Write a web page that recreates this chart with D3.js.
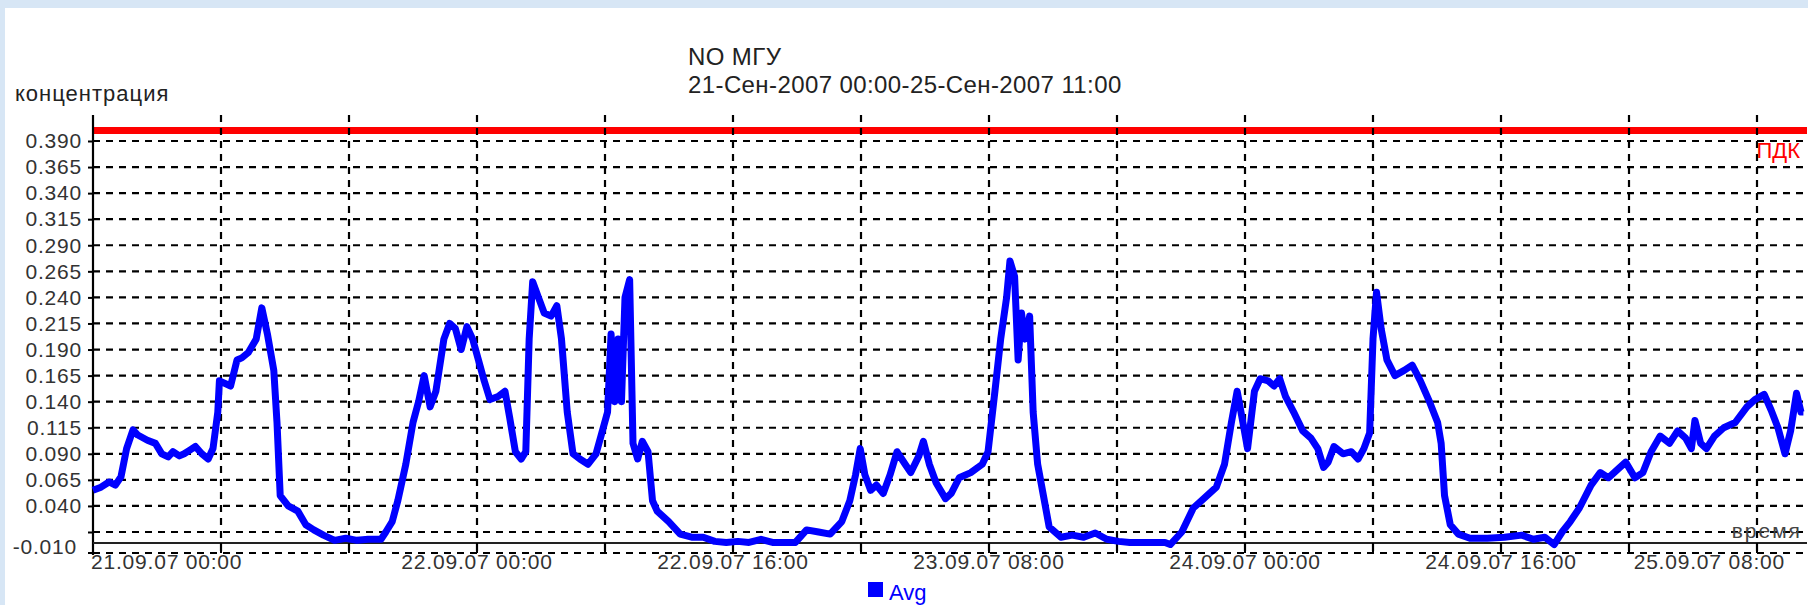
<html>
<head>
<script src="https://d3js.org/d3.v7.min.js"></script>
<style>
    body { margin: 0; background: #fff; }
    text { font-family: "Liberation Sans", Arial, sans-serif; }
</style>
</head>
<body>
<svg id="chart" width="1808" height="605"></svg>
<script>
// hours after 21-09-2007 00:00 and the NO average at that moment
const hours = [
    0, 0.5, 1.0, 1.4, 1.75, 2.1, 2.5, 2.8, 3.4, 3.9,
    4.3, 4.7, 5.0, 5.4, 5.7, 6.1, 6.4, 6.8, 7.2, 7.5,
    7.8, 7.9, 8.6, 9.0, 9.3, 9.7, 10.2, 10.55, 10.9, 11.3,
    11.5, 11.7, 12.2, 12.8, 13.3, 13.8, 14.4, 15.1, 15.8, 16.5,
    17.2, 18.0, 18.3, 18.7, 19.05, 19.55, 20.0, 20.35, 20.7, 21.07,
    21.43, 21.93, 22.29, 22.65, 23.01, 23.37, 23.73, 24.09, 24.45, 24.81,
    25.32, 25.75, 26.04, 26.4, 26.76, 27.05, 27.26, 27.48, 27.84, 28.2,
    28.63, 28.99, 29.28, 29.64, 30.0, 30.43, 30.94, 31.44, 31.8, 32.16,
    32.38, 32.6, 32.82, 33.03, 33.25, 33.54, 33.75, 34.04, 34.33, 34.69,
    34.97, 35.26, 35.98, 36.7, 37.42, 38.14, 38.86, 39.58, 40.3, 41.0,
    41.75, 42.47, 43.2, 43.9, 44.6, 45.35, 46.07, 46.8, 47.3, 47.66,
    47.95, 48.24, 48.6, 48.96, 49.39, 49.82, 50.25, 50.76, 51.11, 51.62,
    51.9, 52.27, 52.7, 53.28, 53.64, 54.14, 54.86, 55.58, 55.94, 56.37,
    56.73, 57.1, 57.31, 57.6, 57.82, 58.03, 58.25, 58.54, 58.76, 59.04,
    59.4, 59.76, 60.49, 61.2, 61.92, 62.64, 63.36, 64.1, 64.8, 65.5,
    66.25, 67.0, 67.33, 68.05, 68.77, 69.49, 70.21, 70.72, 71.15, 71.51,
    71.87, 72.16, 72.59, 72.95, 73.45, 73.81, 74.17, 74.53, 75.04, 75.61,
    76.12, 76.55, 76.91, 77.2, 77.56, 78.13, 78.64, 79.07, 79.43, 79.79,
    80.0, 80.22, 80.51, 80.87, 81.37, 81.95, 82.45, 82.96, 83.53, 84.04,
    84.26, 84.47, 84.83, 85.34, 86.06, 87.14, 88.22, 89.3, 90.02, 90.74,
    91.32, 91.82, 92.33, 92.9, 93.63, 94.2, 94.71, 95.07, 95.79, 96.37,
    96.87, 97.38, 97.95, 98.53, 99.04, 99.54, 99.9, 100.12, 100.48, 100.84,
    101.34, 101.92, 102.64, 103.37, 103.87, 104.45, 104.88, 105.31, 105.75, 106.1,
    106.47, 106.75, 106.9
];
const avg = [
    0.055, 0.058, 0.063, 0.060, 0.068, 0.095, 0.113, 0.108, 0.103, 0.100,
    0.090, 0.087, 0.092, 0.088, 0.090, 0.094, 0.097, 0.090, 0.085, 0.095,
    0.130, 0.160, 0.155, 0.180, 0.182, 0.187, 0.200, 0.230, 0.205, 0.170,
    0.120, 0.050, 0.040, 0.035, 0.022, 0.017, 0.012, 0.007, 0.009, 0.007,
    0.008, 0.008, 0.015, 0.025, 0.045, 0.080, 0.120, 0.140, 0.165, 0.135,
    0.150, 0.200, 0.215, 0.210, 0.190, 0.212, 0.200, 0.180, 0.160, 0.142,
    0.145, 0.150, 0.125, 0.092, 0.085, 0.092, 0.200, 0.255, 0.240, 0.225,
    0.222, 0.232, 0.200, 0.130, 0.090, 0.085, 0.080, 0.090, 0.110, 0.130,
    0.205, 0.140, 0.200, 0.140, 0.240, 0.257, 0.100, 0.085, 0.102, 0.092,
    0.045, 0.035, 0.025, 0.013, 0.010, 0.010, 0.006, 0.005, 0.006, 0.005,
    0.008, 0.005, 0.005, 0.005, 0.017, 0.015, 0.013, 0.025, 0.045, 0.070,
    0.095, 0.070, 0.055, 0.060, 0.052, 0.070, 0.092, 0.080, 0.072, 0.088,
    0.102, 0.080, 0.062, 0.047, 0.052, 0.067, 0.072, 0.080, 0.092, 0.150,
    0.200, 0.240, 0.275, 0.260, 0.180, 0.225, 0.200, 0.222, 0.130, 0.080,
    0.050, 0.020, 0.010, 0.012, 0.010, 0.014, 0.008, 0.006, 0.005, 0.005,
    0.005, 0.005, 0.003, 0.015, 0.038, 0.048, 0.058, 0.080, 0.120, 0.150,
    0.120, 0.095, 0.150, 0.162, 0.160, 0.155, 0.162, 0.145, 0.130, 0.112,
    0.105, 0.095, 0.077, 0.082, 0.097, 0.090, 0.092, 0.085, 0.095, 0.110,
    0.200, 0.245, 0.210, 0.180, 0.165, 0.170, 0.175, 0.160, 0.140, 0.120,
    0.100, 0.050, 0.022, 0.013, 0.009, 0.009, 0.010, 0.012, 0.008, 0.010,
    0.003, 0.015, 0.025, 0.038, 0.060, 0.072, 0.067, 0.072, 0.082, 0.067,
    0.072, 0.092, 0.107, 0.100, 0.112, 0.105, 0.095, 0.122, 0.100, 0.095,
    0.107, 0.115, 0.120, 0.135, 0.142, 0.147, 0.132, 0.115, 0.090, 0.112,
    0.148, 0.130, 0.130
];
const yTicks = [0.390, 0.365, 0.340, 0.315, 0.290, 0.265, 0.240, 0.215, 0.190, 0.165, 0.140, 0.115, 0.090, 0.065, 0.040, 0.015];
const labelHours = [0, 24, 40, 56, 72, 88, 104];
const limitValue = 0.4;
const titleLines = ["NO МГУ", "21-Сен-2007 00:00-25-Сен-2007 11:00"];

const svg = d3.select("#chart");
const W = +svg.attr("width"), H = +svg.attr("height");

// light blue frame around the white panel
svg.append("rect").attr("width", W).attr("height", H).attr("fill", "#d7e6f5");
svg.append("rect").attr("x", 5).attr("y", 8).attr("width", W - 5).attr("height", H - 8).attr("fill", "#fff");

const plotLeft = 93, plotRight = 1807, plotTop = 115, axisY = 543, bottomGrid = 553;
const start = new Date(2007, 8, 21, 0, 0);
const end = new Date(2007, 8, 25, 11, 0);
const toDate = h => new Date(start.getTime() + h * 3600e3);

const x = d3.scaleTime().domain([start, end]).range([plotLeft, 1805]);
const y = d3.scaleLinear().domain([0.015, 0.390]).range([532, 141]);

const data = hours.map((h, i) => ({t: toDate(h), v: avg[i]}));

// limit line (ПДК) under the grid
svg.append("line")
    .attr("x1", plotLeft).attr("x2", plotRight)
    .attr("y1", y(limitValue)).attr("y2", y(limitValue))
    .attr("stroke", "#ff0000").attr("stroke-width", 7);

const grid = svg.append("g")
    .attr("stroke", "#000").attr("stroke-width", 2.2).attr("stroke-dasharray", "7,6");

grid.selectAll(".hgrid").data(yTicks).join("line")
    .attr("x1", plotLeft).attr("x2", plotRight)
    .attr("y1", d => y(d)).attr("y2", d => y(d));
grid.append("line")
    .attr("x1", plotLeft).attr("x2", plotRight)
    .attr("y1", bottomGrid).attr("y2", bottomGrid);

const gridTimes = d3.timeHour.every(8).range(start, end).filter(d => +d > +start);
grid.selectAll(".vgrid").data(gridTimes).join("line")
    .attr("x1", d => x(d)).attr("x2", d => x(d))
    .attr("y1", plotTop).attr("y2", bottomGrid);

// y axis
const yAxis = svg.append("g")
    .attr("transform", "translate(" + plotLeft + ",0)")
    .call(d3.axisLeft(y).tickValues(yTicks).tickSize(5).tickPadding(6)
        .tickFormat(d => d === 0.015 ? "" : d3.format(".3f")(d)));
yAxis.select(".domain").remove();
yAxis.selectAll("line").attr("stroke", "#000").attr("stroke-width", 2);
yAxis.selectAll("text")
    .style("font-size", "21px").style("letter-spacing", "0.8px")
    .attr("fill", "#333");

svg.append("line").attr("x1", plotLeft - 5).attr("x2", plotLeft)
    .attr("y1", bottomGrid).attr("y2", bottomGrid)
    .attr("stroke", "#000").attr("stroke-width", 2);
svg.append("text")
    .attr("x", plotLeft - 16).attr("y", 548)
    .attr("text-anchor", "end").attr("dominant-baseline", "middle")
    .style("font-size", "21px").style("letter-spacing", "0.8px")
    .attr("fill", "#333")
    .text("-0.010");

svg.append("line").attr("x1", plotLeft).attr("x2", plotLeft)
    .attr("y1", plotTop).attr("y2", bottomGrid + 2)
    .attr("stroke", "#000").attr("stroke-width", 2.2);

// x axis
svg.append("line").attr("x1", plotLeft).attr("x2", plotRight)
    .attr("y1", axisY).attr("y2", axisY)
    .attr("stroke", "#222").attr("stroke-width", 2.2);
svg.selectAll(".xtick").data(gridTimes).join("line")
    .attr("x1", d => x(d)).attr("x2", d => x(d))
    .attr("y1", axisY).attr("y2", bottomGrid)
    .attr("stroke", "#000").attr("stroke-width", 2);

const fmt = d3.timeFormat("%d.%m.%y %H:%M");
svg.selectAll(".xlabel").data(labelHours).join("text")
    .attr("y", 569)
    .style("font-size", "21px").style("letter-spacing", "0.8px")
    .attr("fill", "#333")
    .text(d => fmt(toDate(d)))
    .each(function(d) {
        const w = this.getComputedTextLength();
        let x0 = x(toDate(d)) - w / 2;
        x0 = Math.max(plotLeft - 2, Math.min(1785 - w, x0));
        d3.select(this).attr("x", x0);
    });

// data line
svg.append("path")
    .datum(data)
    .attr("fill", "none")
    .attr("stroke", "#0000ff")
    .attr("stroke-width", 7)
    .attr("stroke-linejoin", "round")
    .attr("d", d3.line().x(d => x(d.t)).y(d => y(d.v)));

// labels
svg.append("text").attr("x", 1800).attr("y", 158)
    .attr("text-anchor", "end").attr("fill", "#ff0000")
    .style("font-size", "22px").text("ПДК");

svg.append("text").attr("x", 1802).attr("y", 538)
    .attr("text-anchor", "end").attr("fill", "#444")
    .style("font-size", "21px").style("letter-spacing", "2px").text("время");

svg.append("text").attr("x", 15).attr("y", 101)
    .attr("fill", "#222")
    .style("font-size", "22px").style("letter-spacing", "1px").text("концентрация");

svg.selectAll(".title").data(titleLines).join("text")
    .attr("x", 688).attr("y", (d, i) => 65 + i * 28)
    .attr("fill", "#222")
    .style("font-size", "24px").style("letter-spacing", "0.4px")
    .text(d => d);

// legend
svg.append("rect").attr("x", 868).attr("y", 582).attr("width", 15).attr("height", 15).attr("fill", "#0000ff");
svg.append("text").attr("x", 889).attr("y", 600)
    .attr("fill", "#0000ff").style("font-size", "22px").text("Avg");
</script>
</body>
</html>
